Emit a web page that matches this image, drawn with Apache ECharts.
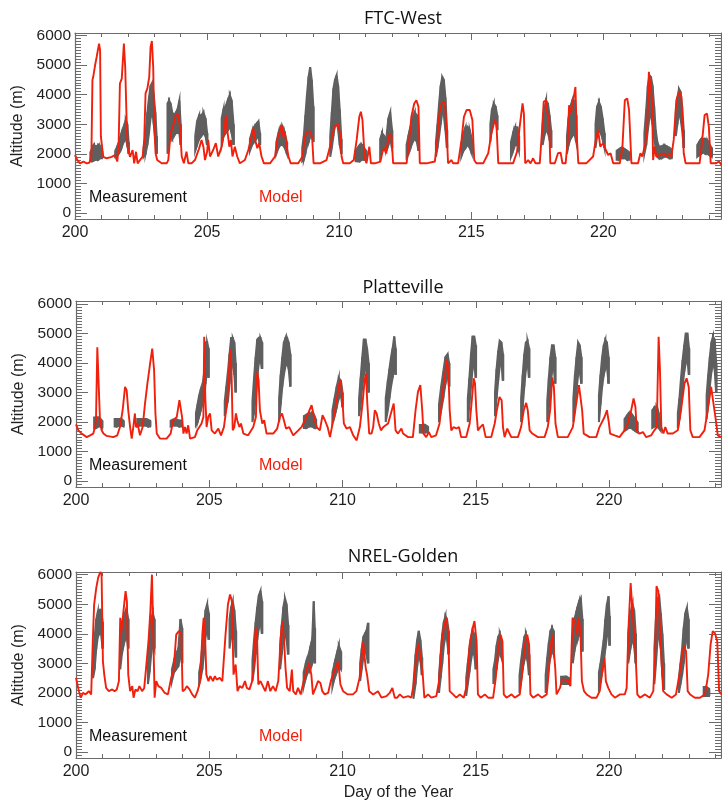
<!DOCTYPE html>
<html>
<head>
<meta charset="utf-8">
<title>Boundary layer height: measurement vs model</title>
<script src="https://cdn.jsdelivr.net/npm/echarts@6/dist/echarts.min.js"></script>
<style>
  html, body { margin: 0; padding: 0; background: #ffffff; }
  #chart { width: 722px; height: 804px; }
</style>
</head>
<body>
<div id="chart"></div>
<script>
// ---- Station names and tick values ----
const stationTitles = ['FTC-West', 'Platteville', 'NREL-Golden'];
const majorDayTicks = [200, 205, 210, 215, 220];
const minorDayTicks = [201, 202, 203, 204, 206, 207, 208, 209, 211, 212, 213, 214, 216, 217, 218, 219, 221, 222, 223, 224];
const majorAltTicks = [0, 1000, 2000, 3000, 4000, 5000, 6000];
const minorAltTicks = [-100, 100, 200, 300, 400, 500, 600, 700, 800, 900, 1100, 1200, 1300, 1400, 1500, 1600, 1700, 1800, 1900,
  2100, 2200, 2300, 2400, 2500, 2600, 2700, 2800, 2900, 3100, 3200, 3300, 3400, 3500, 3600, 3700, 3800, 3900,
  4100, 4200, 4300, 4400, 4500, 4600, 4700, 4800, 4900, 5100, 5200, 5300, 5400, 5500, 5600, 5700, 5800, 5900];

// ---- Modelled mixing height: [day of year, altitude m] ----
const ftcModel = [[200.00,1960],[200.09,1790],[200.19,1680],[200.32,1740],[200.44,1680],[200.54,1700],[200.62,1910],[200.66,4490],[200.69,4600],[200.76,4990],[200.82,5270],[200.91,5720],[200.95,5500],[200.98,2580],[201.02,2560],[201.07,1900],[201.20,1850],[201.39,1900],[201.51,1960],[201.60,1740],[201.65,2240],[201.70,4370],[201.77,4540],[201.85,5720],[201.90,4930],[201.95,3250],[201.99,2240],[202.08,1900],[202.18,2130],[202.24,1680],[202.31,2070],[202.37,1680],[202.46,1790],[202.56,1910],[202.62,2470],[202.67,4040],[202.74,4210],[202.81,4600],[202.86,5610],[202.91,5810],[202.96,4930],[203.00,2920],[203.05,2020],[203.11,1790],[203.28,1680],[203.47,1680],[203.53,1790],[203.62,2690],[203.72,2970],[203.82,3310],[203.91,3310],[203.97,2920],[204.04,1910],[204.12,1680],[204.22,2070],[204.29,1680],[204.41,1680],[204.54,1790],[204.70,2190],[204.79,2470],[204.86,2240],[204.92,1790],[205.00,2070],[205.04,2470],[205.11,1910],[205.23,2130],[205.33,2360],[205.42,1910],[205.55,2240],[205.64,2690],[205.71,3310],[205.78,2690],[205.84,2240],[205.90,2470],[205.96,1910],[206.05,2240],[206.14,1910],[206.24,1680],[206.43,1790],[206.56,2130],[206.65,2470],[206.75,2860],[206.82,2470],[206.90,2190],[206.97,2360],[207.06,1910],[207.15,1680],[207.38,1680],[207.57,1910],[207.65,2470],[207.73,2690],[207.82,2970],[207.88,2580],[207.94,2750],[208.01,2240],[208.08,1910],[208.16,1680],[208.45,1680],[208.61,1910],[208.70,2580],[208.79,2750],[208.92,2750],[208.98,2470],[209.03,1680],[209.27,1680],[209.52,1790],[209.65,2240],[209.75,2690],[209.84,2920],[209.96,3000],[210.03,2690],[210.09,1910],[210.15,1680],[210.40,1680],[210.55,1790],[210.66,2470],[210.76,3250],[210.82,3420],[210.88,3140],[210.96,1910],[211.03,1680],[211.14,2240],[211.20,1680],[211.35,1680],[211.56,1740],[211.64,2070],[211.70,2190],[211.77,2020],[211.85,2470],[211.92,2690],[211.98,2580],[212.04,1680],[212.29,1680],[212.55,1680],[212.65,2470],[212.73,3250],[212.84,3700],[212.92,3810],[213.00,3590],[213.05,1680],[213.30,1680],[213.62,1740],[213.71,2470],[213.79,3360],[213.87,3700],[214.00,3760],[214.06,2920],[214.12,1680],[214.25,1790],[214.31,1680],[214.50,1680],[214.63,2470],[214.72,3250],[214.82,3480],[214.94,3480],[215.04,3140],[215.11,1790],[215.19,1680],[215.45,1680],[215.64,2020],[215.76,2690],[215.89,3140],[215.95,3030],[216.02,1680],[216.33,1680],[216.58,1680],[216.73,2070],[216.83,2920],[216.94,3700],[216.99,3360],[217.04,1680],[217.15,1790],[217.24,1680],[217.34,1850],[217.43,1680],[217.59,1680],[217.67,2690],[217.74,3760],[217.82,3810],[217.88,3360],[217.94,3250],[217.99,1680],[218.16,1680],[218.28,2020],[218.38,2040],[218.45,1680],[218.57,1680],[218.65,2470],[218.70,3640],[218.77,3360],[218.85,3760],[218.94,4260],[219.00,2470],[219.05,1680],[219.35,1680],[219.61,1910],[219.71,2470],[219.80,2800],[219.88,2240],[219.99,2360],[220.09,2130],[220.18,1960],[220.27,2020],[220.37,1680],[220.62,1680],[220.72,2240],[220.81,3810],[220.90,3870],[220.97,3480],[221.06,1680],[221.31,1680],[221.40,2020],[221.47,1910],[221.56,2240],[221.65,2690],[221.72,4770],[221.79,4710],[221.84,3810],[221.88,1790],[221.94,2240],[222.00,1910],[222.13,1960],[222.28,2020],[222.38,1910],[222.48,2020],[222.57,1910],[222.66,2470],[222.76,3810],[222.86,4090],[222.95,3930],[223.04,2020],[223.11,1680],[223.39,1680],[223.64,1680],[223.74,2470],[223.83,3310],[223.92,3360],[223.99,2920],[224.06,1680],[224.27,1680],[224.37,1740],[224.46,1630]];

const platModel = [[200.00,1920],[200.09,1720],[200.21,1610],[200.40,1490],[200.53,1550],[200.65,1610],[200.71,1830],[200.75,2060],[200.80,4530],[200.85,4490],[200.90,2060],[200.96,1720],[201.03,1610],[201.15,1530],[201.40,1490],[201.55,1550],[201.65,1830],[201.75,2400],[201.84,3190],[201.90,3080],[201.96,2400],[202.03,1830],[202.09,1440],[202.15,1830],[202.21,2290],[202.25,1830],[202.31,1950],[202.40,1550],[202.50,1830],[202.59,2630],[202.68,3310],[202.78,3980],[202.86,4490],[202.93,3760],[202.98,2290],[203.03,1610],[203.15,1440],[203.40,1440],[203.55,1610],[203.65,2060],[203.78,2170],[203.88,2740],[203.93,2760],[203.98,2170],[204.03,1610],[204.09,1830],[204.15,1610],[204.21,1890],[204.28,1440],[204.46,1490],[204.55,1720],[204.63,1830],[204.71,1950],[204.78,2170],[204.81,4890],[204.85,2850],[204.90,1830],[204.96,2170],[205.03,2290],[205.09,1720],[205.21,1610],[205.34,1780],[205.44,1550],[205.55,1830],[205.65,2510],[205.73,3420],[205.78,4440],[205.83,3870],[205.88,1720],[205.94,1830],[206.00,2290],[206.05,2060],[206.13,1830],[206.19,1950],[206.28,1610],[206.46,1550],[206.65,1830],[206.75,2170],[206.80,3700],[206.85,3420],[206.90,2400],[206.99,1950],[207.06,2060],[207.15,1610],[207.40,1610],[207.55,1780],[207.65,2170],[207.73,2290],[207.80,2060],[207.88,1780],[208.00,1830],[208.15,1550],[208.34,1720],[208.46,1830],[208.59,2060],[208.71,2290],[208.84,2570],[208.90,2510],[208.96,2060],[209.03,1830],[209.15,1720],[209.25,2230],[209.34,2060],[209.44,1830],[209.53,1490],[209.65,2060],[209.78,2740],[209.88,3310],[209.93,3420],[209.99,2850],[210.05,1950],[210.15,1780],[210.28,1830],[210.40,1550],[210.53,1380],[210.65,1830],[210.75,2630],[210.83,3420],[210.88,3640],[210.93,2630],[211.00,1610],[211.09,1610],[211.15,1830],[211.21,2400],[211.28,2290],[211.36,1950],[211.44,1720],[211.53,1830],[211.71,1950],[211.83,2340],[211.92,2630],[211.99,1720],[212.08,1610],[212.21,1780],[212.27,1610],[212.46,1490],[212.64,1490],[212.74,2400],[212.83,3020],[212.92,3250],[212.99,2400],[213.04,1610],[213.14,1490],[213.24,1660],[213.33,1490],[213.51,1550],[213.64,1950],[213.74,2850],[213.83,3530],[213.92,4100],[213.97,3760],[214.02,2400],[214.08,1720],[214.17,1830],[214.27,1780],[214.37,1830],[214.45,1490],[214.64,1490],[214.77,1950],[214.84,2630],[214.92,3480],[214.97,3310],[215.02,2400],[215.08,1720],[215.17,1830],[215.27,1920],[215.37,1490],[215.58,1490],[215.71,1950],[215.79,2400],[215.89,2850],[215.97,2740],[216.02,1830],[216.08,1490],[216.18,1780],[216.24,1740],[216.33,1490],[216.58,1490],[216.70,1830],[216.80,2400],[216.89,2650],[216.95,2400],[217.02,1720],[217.12,1610],[217.33,1490],[217.58,1490],[217.70,1830],[217.79,2400],[217.87,3510],[217.93,3190],[217.99,1950],[218.08,1490],[218.27,1490],[218.45,1490],[218.64,1830],[218.77,2630],[218.87,3250],[218.93,3190],[218.99,2400],[219.05,1610],[219.27,1490],[219.52,1490],[219.64,1830],[219.83,2170],[219.92,2400],[219.99,2000],[220.04,1610],[220.21,1550],[220.39,1490],[220.58,1720],[220.70,1950],[220.83,2400],[220.92,2800],[220.99,2510],[221.04,1720],[221.14,1610],[221.27,1660],[221.39,1490],[221.58,1550],[221.70,1720],[221.79,1830],[221.86,4890],[221.91,3760],[221.96,1830],[222.04,1610],[222.11,1830],[222.20,1610],[222.39,1610],[222.58,1720],[222.70,2400],[222.83,3310],[222.91,3480],[222.99,3190],[223.05,1720],[223.14,1490],[223.39,1490],[223.58,1720],[223.70,2400],[223.83,3190],[223.89,3170],[223.99,2170],[224.08,1550],[224.20,1490]];

const nrelModel = [[200.00,2510],[200.11,2060],[200.18,1840],[200.26,2000],[200.36,1950],[200.48,2060],[200.57,1950],[200.63,3750],[200.68,4990],[200.76,5550],[200.83,5890],[200.91,6090],[200.96,6000],[201.01,3070],[201.06,2620],[201.13,2170],[201.23,2060],[201.36,2120],[201.45,2060],[201.53,2120],[201.61,2400],[201.66,4540],[201.71,4090],[201.78,4760],[201.86,5440],[201.91,5100],[201.96,2620],[202.03,2060],[202.11,2230],[202.16,1840],[202.23,2120],[202.31,2060],[202.38,2230],[202.48,2060],[202.56,2170],[202.63,2850],[202.72,3750],[202.79,4760],[202.85,6000],[202.90,3970],[202.95,1840],[203.01,2400],[203.09,2230],[203.20,2170],[203.33,2000],[203.45,1950],[203.57,2510],[203.66,2740],[203.76,3970],[203.86,4090],[203.95,4030],[204.00,2060],[204.09,2120],[204.16,2230],[204.26,2120],[204.36,1950],[204.46,1840],[204.56,2060],[204.66,2400],[204.74,3970],[204.79,4540],[204.84,3970],[204.89,2620],[204.97,2400],[205.04,2570],[205.14,2400],[205.21,2570],[205.28,2450],[205.39,2510],[205.49,2400],[205.61,3970],[205.70,4990],[205.78,5330],[205.85,5100],[205.91,2620],[205.99,2960],[206.06,2060],[206.14,2230],[206.24,2170],[206.34,2400],[206.41,2170],[206.51,2120],[206.61,2400],[206.68,2960],[206.74,4200],[206.79,3970],[206.84,2290],[206.92,2400],[207.01,2230],[207.10,2060],[207.20,2400],[207.29,2060],[207.39,2230],[207.49,2060],[207.59,2400],[207.68,3860],[207.74,4430],[207.81,3750],[207.86,2850],[207.92,2170],[208.02,2060],[208.10,2790],[208.15,2060],[208.25,1950],[208.33,2170],[208.43,1950],[208.54,2400],[208.64,2740],[208.74,3020],[208.83,2620],[208.89,1950],[208.99,2170],[209.08,2400],[209.17,2340],[209.24,2060],[209.33,1950],[209.46,2000],[209.56,2400],[209.64,2620],[209.74,2850],[209.84,3070],[209.92,2290],[210.02,2060],[210.20,1950],[210.39,1950],[210.52,2060],[210.64,2510],[210.77,3750],[210.83,3770],[210.87,2850],[210.92,2620],[211.00,2060],[211.15,1950],[211.33,2060],[211.46,1840],[211.65,1890],[211.77,2000],[211.87,2170],[211.96,1840],[212.05,1840],[212.15,1950],[212.28,1840],[212.46,1890],[212.58,1840],[212.67,2290],[212.77,3300],[212.85,3690],[212.92,3640],[213.00,2740],[213.07,1840],[213.21,1950],[213.33,1840],[213.52,1890],[213.62,2400],[213.72,3750],[213.80,4200],[213.90,4540],[213.97,3970],[214.02,2060],[214.15,1950],[214.27,1840],[214.40,1950],[214.55,1840],[214.67,2290],[214.77,3640],[214.87,4140],[214.95,4430],[215.03,3750],[215.08,1950],[215.18,1840],[215.34,1950],[215.46,1840],[215.65,1840],[215.75,2510],[215.84,3520],[215.93,3970],[216.00,3750],[216.05,1950],[216.15,1840],[216.34,1950],[216.46,1840],[216.65,1950],[216.75,2740],[216.84,3640],[216.93,3970],[217.00,3640],[217.05,1950],[217.15,1840],[217.34,1950],[217.47,1840],[217.66,1950],[217.73,2620],[217.80,3520],[217.88,3970],[217.93,3970],[217.98,2850],[218.03,1950],[218.16,2170],[218.23,2450],[218.38,2450],[218.47,2400],[218.55,2230],[218.63,4540],[218.72,4430],[218.80,3970],[218.87,4540],[218.93,3970],[218.98,2400],[219.06,2060],[219.16,1950],[219.34,1840],[219.53,1840],[219.65,2060],[219.75,2740],[219.83,3190],[219.88,2400],[219.97,2170],[220.09,1950],[220.22,1840],[220.41,1950],[220.59,1950],[220.66,2170],[220.73,4200],[220.81,5720],[220.88,4760],[220.93,4820],[220.99,3410],[221.06,1950],[221.16,1840],[221.35,1950],[221.53,1840],[221.66,2060],[221.73,3410],[221.78,5610],[221.85,5440],[221.91,4200],[221.97,3070],[222.03,2060],[222.16,1950],[222.35,1840],[222.51,1950],[222.64,2620],[222.73,3190],[222.81,3580],[222.89,3410],[222.95,2060],[223.04,1950],[223.22,1840],[223.41,1840],[223.60,1950],[223.72,2620],[223.81,3640],[223.89,4090],[223.97,4030],[224.06,3750],[224.13,2060],[224.22,1950]];

// ---- Measured mixing height spread: [day of year, lowest m, highest m] ----
const ftcMeasured = [[200.58,1750,2050],[200.65,1750,2200],[200.72,1780,2300],[200.80,1800,2250],[200.88,1800,2300],[200.95,1850,2250],[201.02,1850,2100],
[201.52,1900,2100],[201.60,1950,2250],[201.68,2050,2450],[201.76,2200,2700],[201.84,2400,2900],[201.92,2500,3150],[201.98,2300,3000],[202.03,2000,2400],
[202.60,1900,2200],[202.67,2000,2700],[202.74,2300,3400],[202.80,2700,3900],[202.86,3200,4300],[202.92,3500,4400],[202.98,3000,4000],[203.04,2500,3400],[203.09,2000,2600],
[203.50,2000,3700],[203.56,2500,3800],[203.62,2600,3700],[203.68,2500,3400],[203.75,2600,3300],[203.82,2700,3400],[203.88,2700,3500],[203.95,2700,3800],[204.00,2300,3000],
[204.55,2100,2600],[204.62,2300,3100],[204.70,2500,3300],[204.78,2600,3300],[204.86,2700,3400],[204.94,2600,3200],[205.00,2300,2700],
[205.55,2300,3200],[205.62,2600,3500],[205.70,2700,3600],[205.78,2800,3800],[205.86,2900,3980],[205.93,2700,3800],[206.00,2300,3000],
[206.62,2100,2500],[206.70,2300,2750],[206.78,2400,2900],[206.86,2500,3000],[206.94,2600,3100],[207.00,2300,2700],
[207.62,2000,2400],[207.70,2200,2700],[207.78,2300,2900],[207.86,2300,2900],[207.94,2200,2700],[208.02,2000,2400],
[208.60,1750,2200],[208.66,1800,2600],[208.72,2000,3300],[208.78,2300,4000],[208.84,2400,4600],[208.90,2600,4930],[208.96,2800,4500],[209.02,2400,3600],
[209.66,1900,2600],[209.72,2200,3400],[209.78,2600,4200],[209.84,3000,4500],[209.90,3100,4650],[209.96,2800,4300],[210.02,2300,3500],[210.08,2000,2500],
[210.62,1750,2100],[210.70,1750,2200],[210.78,1750,2300],[210.86,1800,2300],[210.94,1800,2200],[211.02,1800,2100],
[211.55,1900,2500],[211.62,2100,2700],[211.70,2200,2600],[211.78,2100,2500],[211.86,2300,3200],[211.93,2500,3400],[212.00,2200,2800],
[212.55,1900,2300],[212.62,2000,2600],[212.70,2200,2900],[212.78,2400,3200],[212.86,2500,3400],[212.94,2400,3300],[213.00,2100,2700],
[213.66,1900,2400],[213.72,2200,3000],[213.78,2600,3700],[213.84,3000,4300],[213.90,3400,4600],[213.96,3300,4500],[214.02,2800,3900],[214.08,2200,2800],
[214.62,1900,2300],[214.70,2100,2700],[214.78,2200,2900],[214.86,2300,2900],[214.94,2200,2800],[215.02,2000,2500],
[215.72,2400,3000],[215.78,2900,3500],[215.85,3100,3700],[215.92,3100,3600],[215.98,2800,3300],
[216.50,1900,2400],[216.58,2100,2700],[216.66,2300,2900],[216.74,2300,2900],[216.80,2100,2600],
[217.70,2300,3000],[217.76,2600,3500],[217.83,2800,3800],[217.90,2700,3700],[217.96,2500,3300],[218.02,2200,2800],
[218.62,2000,2600],[218.68,2300,3200],[218.75,2500,3600],[218.82,2600,3800],[218.90,2700,3800],[218.97,2400,3300],
[219.70,2200,3000],[219.76,2600,3600],[219.83,2800,3750],[219.90,2700,3600],[219.97,2500,3200],[220.04,2200,2700],
[220.50,1800,2100],[220.58,1800,2150],[220.66,1850,2200],[220.74,1850,2200],[220.82,1850,2150],[220.90,1800,2100],[220.98,1800,2050],
[221.55,2000,2700],[221.62,2300,3500],[221.68,2800,4300],[221.74,3200,4650],[221.80,3300,4600],[221.86,3000,4300],[221.92,2500,3600],[221.98,2200,2800],[222.04,1900,2400],
[222.10,1850,2250],[222.20,1850,2250],[222.30,1900,2300],[222.40,1900,2250],[222.50,1850,2200],[222.58,1850,2150],
[222.74,2600,3400],[222.80,3000,3900],[222.86,3400,4200],[222.92,3200,4100],[222.98,2800,3600],[223.04,2200,2800],
[223.55,1900,2300],[223.62,1950,2400],[223.70,2000,2500],[223.78,2050,2500],[223.86,2000,2500],[223.94,2000,2450],[224.02,1950,2300],[224.10,1900,2200]];

const platMeasured = [[200.68,1800,2150],[200.76,1800,2150],[200.84,1850,2150],[200.92,1850,2100],[200.98,1800,2050],
[201.45,1850,2100],[201.53,1850,2100],[201.61,1880,2100],[201.70,1880,2100],[201.78,1850,2050],
[202.30,1850,2100],[202.38,1880,2100],[202.46,1880,2100],[202.54,1880,2100],[202.62,1880,2100],[202.70,1850,2080],[202.78,1850,2050],
[203.55,1850,2050],[203.63,1880,2080],[203.71,1880,2080],[203.79,1880,2080],[203.87,1850,2050],[203.95,1850,2050],
[204.50,1900,2300],[204.56,2000,2600],[204.62,2200,2900],[204.68,2400,3100],[204.74,2600,3200],[204.80,2700,3600],[204.86,3300,4700],[204.92,3800,4700],[204.97,3500,4500],
[205.58,2200,2700],[205.64,2500,3200],[205.70,2700,3700],[205.76,3300,4300],[205.82,3800,4850],[205.88,4000,4850],[205.94,3600,4700],[205.99,3000,4000],
[206.62,2000,2700],[206.68,2300,3500],[206.74,2800,4200],[206.80,3500,4800],[206.86,4000,4850],[206.92,4100,4850],[206.98,3800,4700],
[207.62,2000,2800],[207.68,2600,3600],[207.74,3200,4200],[207.80,3600,4700],[207.86,3900,4850],[207.92,4000,4850],[207.98,3800,4700],[208.04,3200,4300],
[208.55,1800,2200],[208.65,1800,2250],[208.75,1850,2300],[208.85,1850,2300],[208.95,1800,2200],[209.00,1800,2100],
[209.62,2000,2400],[209.70,2200,2800],[209.78,2500,3200],[209.86,2800,3500],[209.94,2900,3400],[210.00,2500,3000],
[210.62,2200,2800],[210.68,2600,3500],[210.74,3200,4200],[210.80,3600,4800],[210.86,3900,4800],[210.92,3500,4500],[210.98,3000,4000],
[211.62,2000,2800],[211.70,2400,3400],[211.76,2800,3800],[211.82,3200,4200],[211.88,3500,4500],[211.94,3900,4900],[211.99,3600,4500],
[212.90,1650,1900],[213.00,1650,1900],[213.10,1650,1900],[213.20,1650,1850],
[213.62,2000,2600],[213.70,2400,3200],[213.78,2800,3700],[213.86,3300,4200],[213.94,3600,4300],[214.00,3200,4000],
[214.70,2000,2800],[214.76,2600,3500],[214.82,3200,4300],[214.88,3800,4900],[214.94,4000,4900],[215.00,3500,4600],
[215.72,2200,3000],[215.78,2800,3800],[215.84,3400,4400],[215.90,3900,4750],[215.96,4000,4700],[216.02,3400,4300],
[216.70,2000,2800],[216.76,2500,3600],[216.82,3200,4300],[216.88,3800,4700],[216.94,4000,4750],[217.00,3500,4500],
[217.68,2000,2700],[217.74,2500,3500],[217.80,3200,4200],[217.86,3700,4600],[217.92,3900,4600],[217.98,3300,4200],
[218.66,2000,2800],[218.72,2500,3600],[218.78,3100,4200],[218.84,3600,4700],[218.90,3700,4600],[218.96,3300,4200],
[219.62,2000,2900],[219.68,2600,3600],[219.74,3200,4200],[219.80,3600,4600],[219.86,3800,4780],[219.92,3900,4700],[219.98,3300,4200],
[220.58,1700,2100],[220.66,1750,2200],[220.74,1800,2300],[220.82,1800,2300],[220.90,1750,2200],[220.98,1700,2100],[221.06,1650,2000],
[221.62,1800,2400],[221.70,1850,2500],[221.78,1850,2500],[221.86,1800,2300],[221.94,1700,2000],
[222.58,1800,2300],[222.64,2100,2800],[222.70,2600,3500],[222.76,3200,4100],[222.82,3700,4600],[222.88,4000,5000],[222.94,4100,5000],[223.00,3600,4500],
[223.66,2100,2900],[223.72,2600,3600],[223.78,3200,4200],[223.84,3700,4700],[223.90,4000,4900],[223.96,3800,4800],[224.02,3000,4000]];

const nrelMeasured = [[200.64,2500,3200],[200.70,2800,3900],[200.76,3500,4500],[200.82,3900,4750],[200.88,4000,4800],[200.94,4000,4800],[201.00,3500,4400],
[201.66,2800,3800],[201.72,3300,4200],[201.78,3600,4500],[201.84,3800,4700],[201.90,3900,4800],[201.96,3500,4500],
[202.70,2300,3000],[202.76,2700,3800],[202.82,3300,4500],[202.88,3700,4700],[202.94,3500,4500],
[203.60,2400,2800],[203.68,2700,3100],[203.76,2800,3300],[203.84,2900,3500],[203.92,3300,4500],[203.98,3000,4200],
[204.62,2300,2700],[204.68,2500,3000],[204.74,2800,3600],[204.80,3300,4200],[204.86,3900,4800],[204.92,4200,5000],[204.98,3800,4700],
[205.76,3500,4500],[205.82,3900,4900],[205.88,4100,5100],[205.94,3800,4800],[206.00,3200,4100],
[206.62,2400,3100],[206.68,2800,3800],[206.74,3300,4400],[206.80,3800,4900],[206.86,4200,5300],[206.92,4400,5450],[206.98,4000,5100],
[207.66,2800,3600],[207.72,3300,4300],[207.78,3800,4900],[207.84,4000,5200],[207.90,3800,5000],[207.96,3300,4300],
[208.54,2200,2700],[208.62,2500,3000],[208.70,2700,3200],[208.78,2800,3500],[208.86,3000,3800],[208.92,3200,5100],[208.96,3000,4200],
[209.62,2200,2700],[209.70,2500,3000],[209.78,2700,3300],[209.86,2900,3600],[209.94,2800,3400],
[210.66,2400,3000],[210.72,2800,3500],[210.78,3200,3900],[210.84,3500,4000],[210.90,3300,4100],[210.96,3000,4370],
[212.66,1800,2300],[212.74,2300,3300],[212.80,2900,3800],[212.86,3300,4100],[212.92,3100,3800],[212.98,2600,3200],
[213.62,2000,2600],[213.68,2500,3300],[213.74,3000,4000],[213.80,3600,4400],[213.86,3900,4600],[213.92,3800,4500],[213.98,3300,4100],
[214.64,1900,2500],[214.70,2300,3000],[214.76,2700,3500],[214.82,3100,3900],[214.88,3400,4100],[214.94,3300,4000],[215.00,2800,3600],
[215.66,2300,2800],[215.72,2600,3100],[215.78,2800,3600],[215.84,3200,3900],[215.90,3400,4000],[215.96,3200,3800],
[216.64,2000,2600],[216.70,2400,3100],[216.76,2800,3500],[216.82,3100,3900],[216.88,3300,4000],[216.94,3100,3800],[217.00,2600,3300],
[217.62,2000,2600],[217.68,2400,3200],[217.74,2900,3700],[217.80,3200,4100],[217.86,3500,4200],[217.92,3300,4100],
[218.20,2300,2550],[218.30,2300,2550],[218.40,2300,2550],[218.50,2300,2500],
[218.64,3000,4000],[218.70,3400,4500],[218.76,3700,4700],[218.82,3800,4900],[218.88,4000,5100],[218.94,3900,5200],[219.00,3400,4500],
[219.62,2200,2700],[219.68,2400,3000],[219.74,2700,3400],[219.80,3000,3800],[219.86,3500,4500],[219.92,3900,5000],[219.98,4200,5270],[220.02,3600,4600],
[220.72,3000,4000],[220.80,3500,4700],[220.88,3800,5000],[220.94,3600,4800],[221.00,3000,4000],
[221.70,2300,3500],[221.76,3000,4500],[221.82,3800,5200],[221.88,3900,5270],[221.94,3500,4700],[222.00,2600,4000],[222.06,2100,3000],
[222.62,2000,2500],[222.68,2300,3000],[222.74,2600,3500],[222.80,3000,4200],[222.86,3600,4700],[222.92,3900,4880],[222.98,3500,4500],
[223.55,1900,2200],[223.65,1900,2200],[223.75,1900,2150]];

// ---- Styling ----
const AXIS_FONT = '"Liberation Sans", Arial, Helvetica, sans-serif';
const TITLE_FONT = '"Open Sans", "Noto Sans", sans-serif';
const AXIS_COLOR = '#6b6b6b';
const TEXT_COLOR = '#1e1e1e';
const MODEL_COLOR = '#f0200c';
const MEAS_COLOR = '#5f5f5f';

// Panel layout (pixels) and axis extents
const panels = [
  { title: stationTitles[0], model: ftcModel,  meas: ftcMeasured,  left: 75, top: 33,  height: 186, xMax: 224.45, yMax: 6080, titleTop: 5,   legendY: 198 },
  { title: stationTitles[1], model: platModel, meas: platMeasured, left: 76, top: 301, height: 186, xMax: 224.2,  yMax: 6100, titleTop: 274, legendY: 466 },
  { title: stationTitles[2], model: nrelModel, meas: nrelMeasured, left: 76, top: 572, height: 186, xMax: 224.2,  yMax: 6090, titleTop: 543, legendY: 737 }
];

// Plain integers on the axes (no thousands separator)
function plainNumber(v) { return String(v); }

// Measured spread drawn as a filled band between consecutive samples
function bandRenderer(rows) {
  return function (params, api) {
    const i = params.dataIndex;
    const cur = rows[i];
    const next = rows[i + 1];
    if (next && next[0] - cur[0] <= 0.13) {
      const a = api.coord([cur[0], cur[1]]);
      const b = api.coord([next[0], next[1]]);
      const c = api.coord([next[0], next[2]]);
      const d = api.coord([cur[0], cur[2]]);
      return {
        type: 'polygon',
        shape: { points: [a, b, c, d] },
        style: { fill: MEAS_COLOR, stroke: MEAS_COLOR, lineWidth: 2 }
      };
    }
    const lo = api.coord([cur[0], cur[1]]);
    const hi = api.coord([cur[0], cur[2]]);
    return {
      type: 'line',
      shape: { x1: lo[0], y1: lo[1], x2: hi[0], y2: hi[1] },
      style: { stroke: MEAS_COLOR, lineWidth: 2.6 }
    };
  };
}

const grids = [], xAxes = [], yAxes = [], series = [], titles = [], graphics = [];

panels.forEach(function (p, g) {
  grids.push({ left: p.left, top: p.top, width: 721 - p.left, height: p.height, containLabel: false });

  const tickStyle = { color: AXIS_COLOR, width: 1 };
  const xBase = {
    gridIndex: g, type: 'value', min: 200, max: p.xMax,
    splitLine: { show: false },
    axisLine: { onZero: false, lineStyle: { color: AXIS_COLOR, width: 1.2 } }
  };
  const xFirst = xAxes.length;
  xAxes.push(Object.assign({}, xBase, {
    position: 'bottom',
    axisTick: { inside: true, length: 7, customValues: majorDayTicks, lineStyle: tickStyle },
    axisLabel: { customValues: majorDayTicks, formatter: plainNumber, fontSize: 16, color: TEXT_COLOR, fontFamily: AXIS_FONT, margin: 6 },
    name: g === 2 ? 'Day of the Year' : '',
    nameLocation: 'middle', nameGap: 27,
    nameTextStyle: { fontSize: 16, color: TEXT_COLOR, fontFamily: AXIS_FONT }
  }));
  xAxes.push(Object.assign({}, xBase, {
    position: 'bottom', axisLine: { show: false, onZero: false },
    axisTick: { inside: true, length: 4, customValues: minorDayTicks, lineStyle: tickStyle },
    axisLabel: { show: false }
  }));
  xAxes.push(Object.assign({}, xBase, {
    position: 'top',
    axisTick: { inside: true, length: 7, customValues: majorDayTicks, lineStyle: tickStyle },
    axisLabel: { show: false }
  }));
  xAxes.push(Object.assign({}, xBase, {
    position: 'top', axisLine: { show: false, onZero: false },
    axisTick: { inside: true, length: 4, customValues: minorDayTicks, lineStyle: tickStyle },
    axisLabel: { show: false }
  }));

  const yBase = {
    gridIndex: g, type: 'value', min: -200, max: p.yMax,
    splitLine: { show: false },
    axisLine: { onZero: false, lineStyle: { color: AXIS_COLOR, width: 1.2 } }
  };
  const yFirst = yAxes.length;
  yAxes.push(Object.assign({}, yBase, {
    position: 'left',
    axisTick: { inside: true, length: 12, customValues: majorAltTicks, lineStyle: tickStyle },
    axisLabel: { customValues: majorAltTicks, formatter: plainNumber, fontSize: 15.5, color: TEXT_COLOR, fontFamily: AXIS_FONT, margin: 4 },
    name: 'Altitude (m)', nameLocation: 'middle', nameGap: 48, nameRotate: 90,
    nameTextStyle: { fontSize: 16, color: TEXT_COLOR, fontFamily: AXIS_FONT }
  }));
  yAxes.push(Object.assign({}, yBase, {
    position: 'left', axisLine: { show: false, onZero: false },
    axisTick: { inside: true, length: 6, customValues: minorAltTicks, lineStyle: tickStyle },
    axisLabel: { show: false }
  }));
  yAxes.push(Object.assign({}, yBase, {
    position: 'right',
    axisTick: { inside: true, length: 12, customValues: majorAltTicks, lineStyle: tickStyle },
    axisLabel: { show: false }
  }));
  yAxes.push(Object.assign({}, yBase, {
    position: 'right', axisLine: { show: false, onZero: false },
    axisTick: { inside: true, length: 6, customValues: minorAltTicks, lineStyle: tickStyle },
    axisLabel: { show: false }
  }));

  series.push({
    name: 'Measurement', type: 'custom',
    xAxisIndex: xFirst, yAxisIndex: yFirst,
    data: p.meas, encode: { x: 0, y: [1, 2] },
    renderItem: bandRenderer(p.meas),
    clip: true, silent: true, z: 2
  });
  series.push({
    name: 'Model', type: 'line',
    xAxisIndex: xFirst, yAxisIndex: yFirst,
    data: p.model, showSymbol: false, symbol: 'none',
    lineStyle: { color: MODEL_COLOR, width: 1.9 },
    clip: true, silent: true, z: 3
  });

  titles.push({
    text: p.title, left: 398, top: p.titleTop, textAlign: 'center',
    textStyle: { fontSize: 18, fontWeight: 'normal', color: '#111', fontFamily: TITLE_FONT }
  });

  graphics.push({
    type: 'text', x: 89, y: p.legendY,
    style: { text: 'Measurement', fill: '#111', font: '16px ' + AXIS_FONT, verticalAlign: 'middle' }
  });
  graphics.push({
    type: 'text', x: 259, y: p.legendY,
    style: { text: 'Model', fill: MODEL_COLOR, font: '16px ' + AXIS_FONT, verticalAlign: 'middle' }
  });
});

const chart = echarts.init(document.getElementById('chart'), null, { renderer: 'canvas' });
chart.setOption({
  backgroundColor: '#ffffff',
  animation: false,
  title: titles,
  grid: grids,
  xAxis: xAxes,
  yAxis: yAxes,
  series: series,
  graphic: graphics
});
</script>
</body>
</html>
